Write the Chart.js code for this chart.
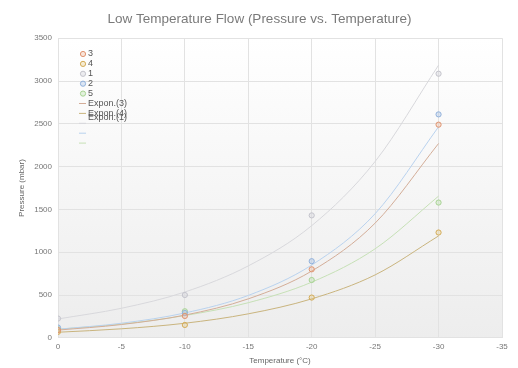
<!DOCTYPE html>
<html>
<head>
<meta charset="utf-8">
<script src="https://cdn.jsdelivr.net/npm/chart.js@4.4.1/dist/chart.umd.min.js"></script>
<style>
  html, body { margin: 0; padding: 0; background: #fff; }
  #wrap { width: 518px; height: 368px; }
</style>
</head>
<body>
<div id="wrap"><canvas id="grafica"></canvas></div>
<script>
// --- datos ---
const temps = [0, -10, -20, -30];
const trendTemps = [0, -5, -10, -15, -20, -25, -30];

const serie3 = [90, 255, 800, 2490];
const serie4 = [70, 150, 470, 1230];
const serie1 = [225, 500, 1430, 3085];
const serie2 = [120, 290, 895, 2610];
const serie5 = [100, 310, 675, 1580];

const expon3 = [90, 155, 265, 455, 780, 1340, 2270];
const expon4 = [65, 105, 170, 280, 455, 735, 1190];
const expon1 = [220, 345, 535, 840, 1310, 2060, 3185];
const expon2 = [100, 170, 290, 495, 850, 1450, 2465];
const expon5 = [100, 160, 260, 410, 650, 1040, 1655];

const xTicks = [0, -5, -10, -15, -20, -25, -30, -35];
const yTicks = [0, 500, 1000, 1500, 2000, 2500, 3000, 3500];

const toXY = (xs, ys) => xs.map((x, i) => ({ x: x, y: ys[i] }));

function puntos(label, ys, color, fill) {
    return {
        label: label,
        data: toXY(temps, ys),
        showLine: false,
        borderColor: color,
        backgroundColor: fill,
        pointRadius: 2.6,
        pointBorderWidth: 1,
        pointHoverRadius: 3
    };
}

function tendencia(label, ys, color) {
    return {
        label: label,
        data: toXY(trendTemps, ys),
        showLine: true,
        borderColor: color,
        borderWidth: 1,
        pointRadius: 0,
        cubicInterpolationMode: 'monotone',
        fill: false
    };
}

// fondo degradado del area de trazado
const fondoPlugin = {
    id: 'fondo',
    beforeDraw(chart) {
        const { ctx, chartArea: a } = chart;
        const g = ctx.createLinearGradient(0, a.top, 0, a.bottom);
        g.addColorStop(0, '#ffffff');
        g.addColorStop(1, '#ededed');
        ctx.save();
        ctx.fillStyle = g;
        ctx.fillRect(a.left, a.top, a.right - a.left, a.bottom - a.top);
        ctx.restore();
    }
};

// leyenda dentro del area (con el solapamiento del original)
const leyendaPlugin = {
    id: 'leyenda',
    afterDraw(chart) {
        const ctx = chart.ctx;
        const ds = chart.data.datasets;
        const x0 = 83, y0 = 54, paso = 9.9;
        ctx.save();
        ctx.font = '9px "Liberation Sans", Arial, sans-serif';
        ctx.textBaseline = 'middle';
        ds.forEach((d, i) => {
            const y = y0 + i * paso;
            if (d.showLine === false) {
                ctx.beginPath();
                ctx.arc(x0, y, 2.6, 0, Math.PI * 2);
                ctx.fillStyle = d.backgroundColor;
                ctx.fill();
                ctx.strokeStyle = d.borderColor;
                ctx.lineWidth = 1;
                ctx.stroke();
                ctx.fillStyle = '#555';
                ctx.fillText(d.label, x0 + 5, y);
            } else {
                ctx.beginPath();
                ctx.moveTo(x0 - 4, y);
                ctx.lineTo(x0 + 3, y);
                ctx.strokeStyle = d.borderColor;
                ctx.lineWidth = 1;
                ctx.stroke();
                ctx.fillStyle = '#555';
                if (i <= 6) ctx.fillText(d.label, x0 + 5, y);
                if (i === 6) ctx.fillText(ds[7].label, x0 + 5, y + 4);
            }
        });
        ctx.restore();
    }
};

const ctx = document.getElementById('grafica').getContext('2d');
new Chart(ctx, {
    type: 'scatter',
    data: {
        datasets: [
            puntos('3', serie3, '#e09470', 'rgba(240,180,150,0.35)'),
            puntos('4', serie4, '#d4ac58', 'rgba(230,200,130,0.35)'),
            puntos('1', serie1, '#c4c4cc', 'rgba(215,215,222,0.45)'),
            puntos('2', serie2, '#92b2dc', 'rgba(170,195,230,0.4)'),
            puntos('5', serie5, '#a8d494', 'rgba(190,225,175,0.4)'),
            tendencia('Expon.(3)', expon3, '#d3ad98'),
            tendencia('Expon.(4)', expon4, '#c9b47e'),
            tendencia('Expon.(1)', expon1, '#d8d8dc'),
            tendencia('Expon.(2)', expon2, '#b9d2ee'),
            tendencia('Expon.(5)', expon5, '#c6e0b6')
        ]
    },
    options: {
        responsive: true,
        maintainAspectRatio: false,
        animation: false,
        layout: { padding: { left: 17, right: 16, top: 0, bottom: 2 } },
        plugins: {
            legend: { display: false },
            tooltip: { enabled: false },
            title: {
                display: true,
                text: 'Low Temperature Flow (Pressure vs. Temperature)',
                color: '#7a7a7a',
                font: { family: '"Liberation Sans", Arial, sans-serif', size: 13.5, weight: 'normal' },
                padding: { top: 11, bottom: 11 }
            }
        },
        scales: {
            x: {
                type: 'linear',
                reverse: true,
                min: -35,
                max: 0,
                afterBuildTicks(s) { s.ticks = xTicks.map(v => ({ value: v })); },
                ticks: {
                    color: '#777',
                    font: { family: '"Liberation Sans", Arial, sans-serif', size: 8 },
                    padding: 4,
                    maxRotation: 0,
                    callback: v => String(v)
                },
                grid: { color: '#e2e2e2', drawTicks: false },
                border: { color: '#e2e2e2' },
                title: {
                    display: true,
                    text: 'Temperature (°C)',
                    color: '#666',
                    font: { family: '"Liberation Sans", Arial, sans-serif', size: 8 },
                    padding: { top: 1, bottom: 0 }
                }
            },
            y: {
                min: 0,
                max: 3500,
                afterBuildTicks(s) { s.ticks = yTicks.map(v => ({ value: v })); },
                afterFit(s) { s.width = 41; },
                ticks: {
                    color: '#777',
                    font: { family: '"Liberation Sans", Arial, sans-serif', size: 8 },
                    padding: 6,
                    callback: v => String(v)
                },
                grid: { color: '#e2e2e2', drawTicks: false },
                border: { color: '#e2e2e2' },
                title: {
                    display: true,
                    text: 'Pressure (mbar)',
                    color: '#666',
                    font: { family: '"Liberation Sans", Arial, sans-serif', size: 8 },
                    padding: { top: 0, bottom: 4 }
                }
            }
        }
    },
    plugins: [fondoPlugin, leyendaPlugin]
});
</script>
</body>
</html>
